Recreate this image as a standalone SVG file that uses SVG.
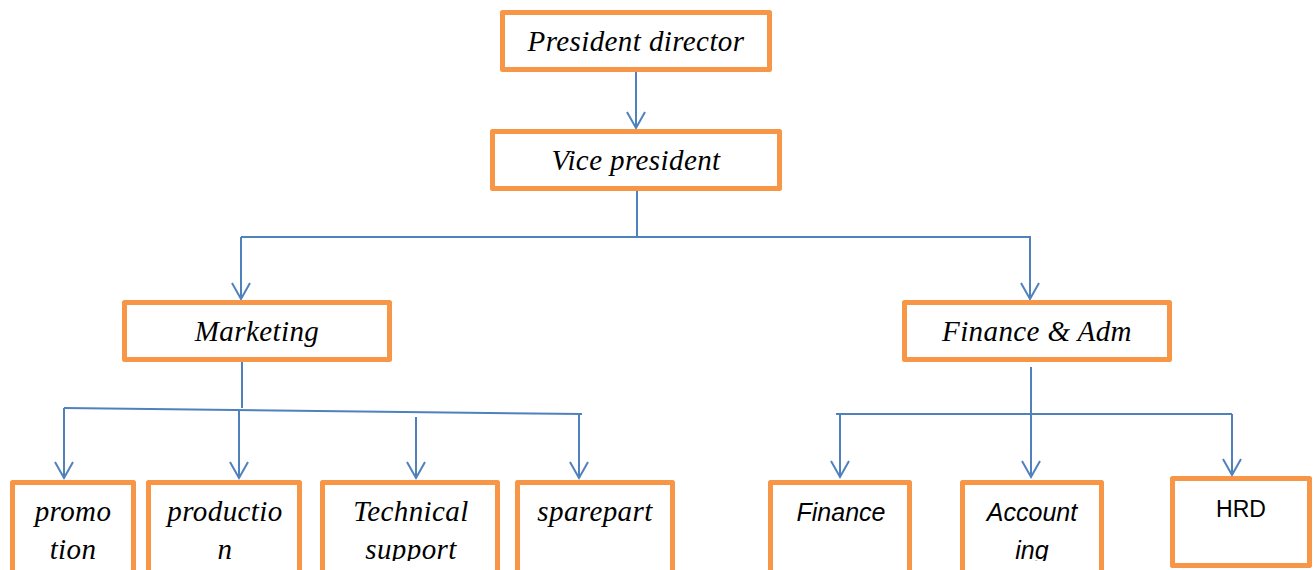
<svg xmlns="http://www.w3.org/2000/svg" width="1314" height="570" viewBox="0 0 1314 570">
<style>
.box{fill:#fff;stroke:#F79646;stroke-width:5;stroke-linejoin:round}
.t{font-family:"Liberation Serif","Times New Roman",serif;font-style:italic;font-size:29px;letter-spacing:0.4px;fill:#000;text-anchor:middle}
.c{font-family:"Liberation Sans",Arial,sans-serif;font-style:italic;font-size:25px;fill:#000;text-anchor:middle}
.h{font-family:"Liberation Sans",Arial,sans-serif;font-size:23px;fill:#000;text-anchor:middle}
.ln{fill:none;stroke:#4F81BD;stroke-width:2}
</style>
<defs>
<marker id="arr" viewBox="0 0 20 20" refX="17" refY="10" markerWidth="20" markerHeight="20" markerUnits="userSpaceOnUse" orient="auto">
<path d="M1,1 L17,10 L1,19" fill="none" stroke="#4F81BD" stroke-width="2"/>
</marker>
<clipPath id="clipB"><rect x="0" y="0" width="1314" height="561"/></clipPath>
</defs>
<rect width="1314" height="570" fill="#fff"/>
<g id="connectors">
<line class="ln" x1="636" y1="72" x2="636" y2="128" marker-end="url(#arr)"/>
<line class="ln" x1="637" y1="191" x2="637" y2="237"/>
<line class="ln" x1="241" y1="237" x2="1031" y2="237"/>
<line class="ln" x1="241" y1="237" x2="241" y2="299" marker-end="url(#arr)"/>
<line class="ln" x1="1030" y1="237" x2="1030" y2="299" marker-end="url(#arr)"/>
<line class="ln" x1="242" y1="362" x2="242" y2="408"/>
<line class="ln" x1="64" y1="408" x2="582" y2="414"/>
<line class="ln" x1="64" y1="408" x2="64" y2="478" marker-end="url(#arr)"/>
<line class="ln" x1="239" y1="410" x2="239" y2="478" marker-end="url(#arr)"/>
<line class="ln" x1="416" y1="417" x2="416" y2="478" marker-end="url(#arr)"/>
<line class="ln" x1="579" y1="414" x2="579" y2="478" marker-end="url(#arr)"/>
<line class="ln" x1="1031" y1="367" x2="1031" y2="414"/>
<line class="ln" x1="836" y1="414" x2="1232" y2="414"/>
<line class="ln" x1="840" y1="414" x2="840" y2="477" marker-end="url(#arr)"/>
<line class="ln" x1="1031" y1="414" x2="1031" y2="477" marker-end="url(#arr)"/>
<line class="ln" x1="1232" y1="414" x2="1232" y2="475" marker-end="url(#arr)"/>
</g>
<g id="president">
<rect class="box" x="502.5" y="12.5" width="267" height="57"/>
<text class="t" x="636" y="51">President director</text>
</g>
<g id="vice">
<rect class="box" x="492.5" y="131.5" width="287" height="57"/>
<text class="t" x="636" y="170">Vice president</text>
</g>
<g id="marketing">
<rect class="box" x="124.5" y="302.5" width="265" height="57"/>
<text class="t" x="257" y="341">Marketing</text>
</g>
<g id="finadm">
<rect class="box" x="904.5" y="302.5" width="265" height="57"/>
<text class="t" x="1037" y="341">Finance &amp; Adm</text>
</g>
<g id="promotion">
<rect class="box" x="12.5" y="482.5" width="121" height="100"/>
<g clip-path="url(#clipB)"><text class="t" x="73" y="521">promo</text><text class="t" x="73" y="559">tion</text></g>
</g>
<g id="production">
<rect class="box" x="148.5" y="482.5" width="151" height="100"/>
<g clip-path="url(#clipB)"><text class="t" x="225" y="521">productio</text><text class="t" x="225" y="559">n</text></g>
</g>
<g id="technical">
<rect class="box" x="322.5" y="482.5" width="175" height="100"/>
<g clip-path="url(#clipB)"><text class="t" x="411" y="521">Technical</text><text class="t" x="411" y="559">support</text></g>
</g>
<g id="sparepart">
<rect class="box" x="517.5" y="482.5" width="155" height="100"/>
<text class="t" x="595" y="521">sparepart</text>
</g>
<g id="finance">
<rect class="box" x="770.5" y="482.5" width="139" height="100"/>
<text class="c" x="841" y="521">Finance</text>
</g>
<g id="accounting">
<rect class="box" x="962.5" y="482.5" width="139" height="100"/>
<g clip-path="url(#clipB)"><text class="c" x="1032" y="521">Account</text><text class="c" x="1032" y="559">ing</text></g>
</g>
<g id="hrd">
<rect class="box" x="1172.5" y="478.5" width="137" height="87"/>
<text class="h" x="1241" y="517">HRD</text>
</g>
</svg>
